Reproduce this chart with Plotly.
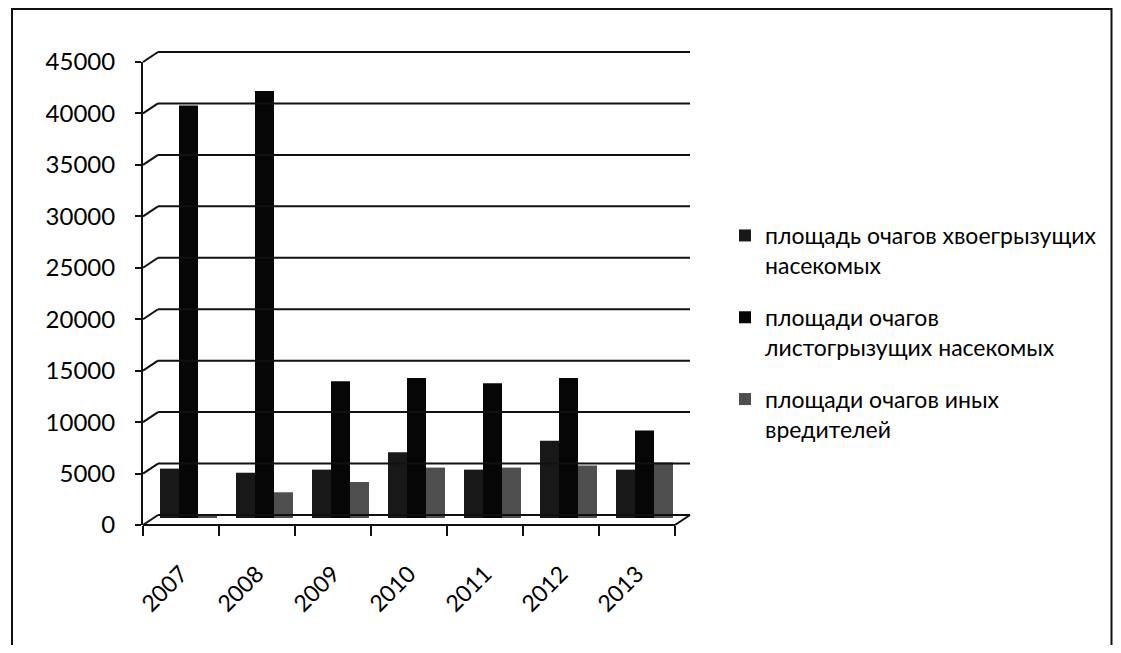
import plotly.graph_objects as go

years = ["2007", "2008", "2009", "2010", "2011", "2012", "2013"]
conifer = [4800, 4400, 4700, 6400, 4700, 7500, 4700]
leaf = [40100, 41500, 13300, 13600, 13100, 13600, 8500]
other = [200, 2500, 3500, 4900, 4900, 5100, 5400]
names = [
    "площадь очагов хвоегрызущих<br>насекомых",
    "площади очагов<br>листогрызущих насекомых",
    "площади очагов иных<br>вредителей",
]
colors = ["#181818", "#060606", "#4e4e4e"]
y_ticks = [0, 5000, 10000, 15000, 20000, 25000, 30000, 35000, 40000, 45000]
y_max = 45000

font = "Lato, 'Open Sans', sans-serif"

# page has an 8px body margin, so the figure is drawn smaller and shifted
OFF = 8
W, H = 1121 - 2 * OFF, 653 - 2 * OFF
# plot area in page pixels: x 143..690, y 62..525
L, T = 143 - OFF, 62 - OFF
R, B = W - (690 - OFF), H - (525 - OFF)
PW, PH = W - L - R, H - T - B
CAT = 76.0                              # category width in px
DX, DY = 15.0, 10.0                     # 3-D depth offset (px)
dxp, dyp = DX / PW, DY / PH
x_hi = -0.5 + PW / CAT

bw = 0.25
shift = (DX / 2) / CAT
bar_lift = 7.0                          # bars stand a bit behind the front edge

fig = go.Figure()
# invisible trace keeping the front value axis populated
fig.add_trace(go.Scatter(x=years, y=conifer, mode="markers",
                         marker=dict(opacity=0), showlegend=False,
                         hoverinfo="skip", xaxis="x", yaxis="y"))
for i, (vals, nm) in enumerate(zip([conifer, leaf, other], names)):
    fig.add_trace(go.Bar(
        x=years, y=vals, name=nm, legendgroup=str(i),
        width=bw, offset=-1.5 * bw + i * bw + shift,
        marker=dict(color=colors[i], line=dict(width=0)),
        xaxis="x", yaxis="y2",
    ))

shapes = []
line_style = dict(color="#111111", width=2)
for v in y_ticks:
    yp = v / y_max
    shapes.append(dict(type="line", xref="paper", yref="paper",
                       x0=0, y0=yp, x1=dxp, y1=yp + dyp, line=line_style))
    shapes.append(dict(type="line", xref="paper", yref="paper",
                       x0=dxp, y0=yp + dyp, x1=1, y1=yp + dyp, line=line_style))
x_front_end = 1 - dxp
shapes.append(dict(type="line", xref="paper", yref="paper",
                   x0=0, y0=0, x1=x_front_end, y1=0, line=line_style))
shapes.append(dict(type="line", xref="paper", yref="paper",
                   x0=x_front_end, y0=0, x1=1, y1=dyp, line=line_style))
# outer frame
shapes.append(dict(type="rect", xref="paper", yref="paper",
                   x0=(12 - OFF - L) / PW, x1=(W - 1.5 - L) / PW,
                   y0=-(B + 30) / PH, y1=(H - B - 1) / PH,
                   line=dict(color="#111111", width=2), layer="below"))

sp = "\u2002\u2009"
fig.update_layout(
    width=W, height=H,
    margin=dict(l=L, r=R, t=T, b=B, autoexpand=False),
    paper_bgcolor="white", plot_bgcolor="rgba(0,0,0,0)",
    font=dict(family=font, color="#000000"),
    showlegend=True,
    legend=dict(
        x=(725 - OFF - L) / PW, xanchor="left",
        y=(H - B - (214 - OFF)) / PH, yanchor="top",
        font=dict(size=23, family=font, color="#000000"),
        tracegroupgap=19, itemwidth=30, valign="top",
        bgcolor="rgba(0,0,0,0)",
    ),
    shapes=shapes,
    xaxis=dict(
        type="category", range=[-0.5, x_hi], tickangle=-45, tickson="boundaries",
        ticks="outside", ticklen=10, tickwidth=2, tickcolor="#111111",
        showline=False, showgrid=False, zeroline=False,
        tickfont=dict(size=23, family=font, color="#000000"),
        ticklabelstandoff=30, automargin=False,
    ),
    yaxis=dict(
        range=[0, y_max], tickvals=y_ticks, ticktext=[str(v) + sp for v in y_ticks],
        ticks="outside", ticklen=6, tickwidth=2, tickcolor="#111111",
        showline=True, linecolor="#111111", linewidth=2,
        showgrid=False, zeroline=False, showticklabels=True,
        tickfont=dict(size=24, family=font, color="#000000"),
        automargin=False,
    ),
    yaxis2=dict(
        anchor="x", domain=[bar_lift / PH, 1],
        range=[0, y_max * (1 - bar_lift / PH)],
        visible=False, showgrid=False, zeroline=False,
    ),
)
fig.write_html("out.html")
